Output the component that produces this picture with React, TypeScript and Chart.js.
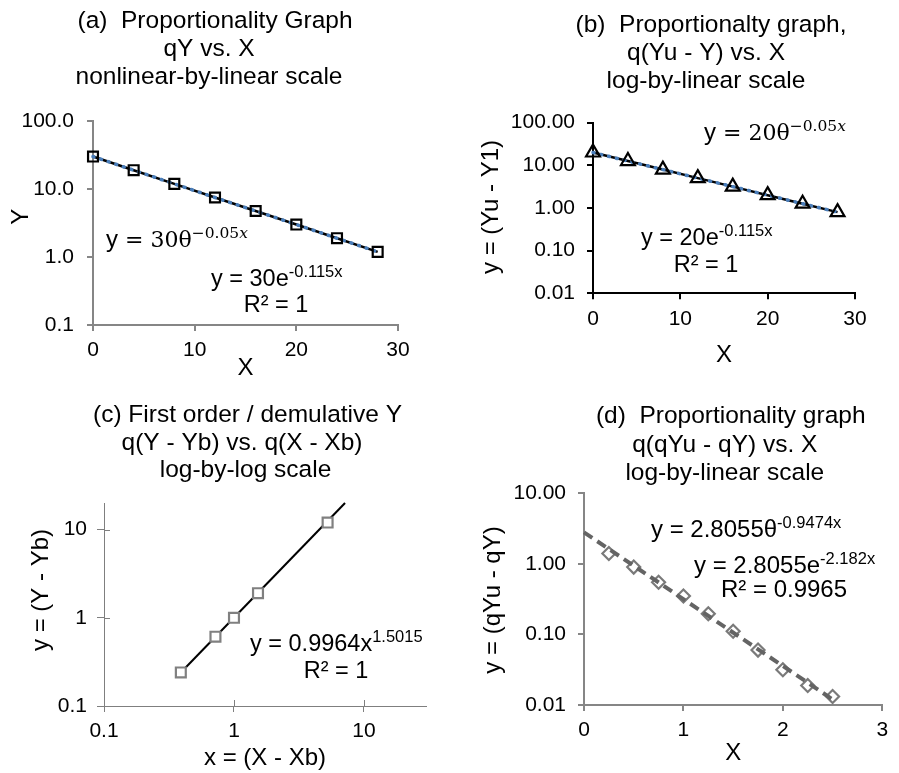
import React, { useEffect, useRef } from "react";
import { Chart, registerables } from "chart.js";
Chart.register(...registerables);

const SANS = "'Liberation Sans', Arial, Helvetica, sans-serif";
const SERIF = "'DejaVu Serif', 'Liberation Serif', serif";

// ---------- Panel (a) data ----------
const aX = [0, 4, 8, 12, 16, 20, 24, 28];
const aY = [30, 18.9, 11.9, 7.5, 4.75, 3.0, 1.89, 1.19];
const aYTicks = [0.1, 1, 10, 100];
const aXTicks = [0, 10, 20, 30];
const aTitle = ["(a)  Proportionality Graph", "qY vs. X", "nonlinear-by-linear scale"];

// ---------- Panel (b) data ----------
const bX = [0, 4, 8, 12, 16, 20, 24, 28];
const bY = [20, 12.6, 7.96, 5.02, 3.17, 2.0, 1.26, 0.8];
const bYTicks = [0.01, 0.1, 1, 10, 100];
const bXTicks = [0, 10, 20, 30];
const bTitle = ["(b)  Proportionalty graph,", "q(Yu - Y) vs. X", "log-by-linear scale"];

// ---------- Panel (c) data ----------
const cX = [0.39, 0.72, 1.0, 1.53, 5.25];
const cY = [0.24, 0.61, 1.0, 1.9, 12.0];
const cTrendX = [0.39, 7.15];
const cTrendY = [0.24, 20];
const cXTicks = [0.1, 1, 10];
const cYTicks = [0.1, 1, 10];
const cTitle = ["(c) First order / demulative Y", "q(Y - Yb) vs. q(X - Xb)", "log-by-log scale"];

// ---------- Panel (d) data ----------
const dX = [0.25, 0.5, 0.75, 1.0, 1.25, 1.5, 1.75, 2.0, 2.25, 2.5];
const dY = [1.4, 0.9, 0.55, 0.35, 0.196, 0.111, 0.06, 0.0316, 0.0189, 0.0132];
const dTrendX = [0, 2.5];
const dTrendY = [2.8, 0.012];
const dYTicks = [0.01, 0.1, 1, 10];
const dXTicks = [0, 1, 2, 3];
const dTitle = ["(d)  Proportionality graph", "q(qYu - qY) vs. X", "log-by-linear scale"];

type Run = { t: string; f: string; dy?: number };
type TextItem = {
  runs: Run[];
  x: number;
  y: number;
  align?: "left" | "center";
  rotate?: boolean;
  color?: string;
};

function drawItem(ctx: CanvasRenderingContext2D, it: TextItem) {
  ctx.save();
  ctx.fillStyle = it.color || "#000";
  ctx.textAlign = "left";
  ctx.textBaseline = it.rotate ? "middle" : "alphabetic";
  let total = 0;
  const widths = it.runs.map((r) => {
    ctx.font = r.f;
    const w = ctx.measureText(r.t).width;
    total += w;
    return w;
  });
  ctx.translate(it.x, it.y);
  if (it.rotate) ctx.rotate(-Math.PI / 2);
  let x = it.align === "center" ? -total / 2 : 0;
  it.runs.forEach((r, i) => {
    ctx.font = r.f;
    ctx.fillText(r.t, x, -(r.dy || 0));
    x += widths[i];
  });
  ctx.restore();
}

const f = (size: number, fam = SANS, style = "") => `${style} ${size}px ${fam}`.trim();

function titleItems(lines: string[], centers: number[], baselines: number[]): TextItem[] {
  return lines.map((t, i) => ({
    runs: [{ t, f: f(24.5) }],
    x: centers[i],
    y: baselines[i],
    align: "center" as const,
  }));
}

const pts = (xs: number[], ys: number[]) => xs.map((x, i) => ({ x, y: ys[i] }));

type PanelSpec = {
  w: number;
  h: number;
  left: number;
  top: number;
  chartLeft: number;
  chartRight: number;
  chartTop: number;
  chartBottom: number;
  xTitleCenter: number;
  xTitle: string;
  xType: "linear" | "logarithmic";
  xMin: number;
  xMax: number;
  xTicks: number[];
  xFmt: (v: number) => string;
  yMin: number;
  yMax: number;
  yTicks: number[];
  yFmt: (v: number) => string;
  axisColor: string;
  axisWidth: number;
  xLabelPad: number;
  yLabelPad: number;
  tickLen: number;
  crossTicks?: boolean;
  datasets: any[];
  texts: TextItem[];
};

function Panel({ spec }: { spec: PanelSpec }) {
  const ref = useRef<HTMLCanvasElement | null>(null);
  useEffect(() => {
    if (!ref.current) return;
    const s = spec;
    const wY = s.chartLeft;
    const scaleBottom = s.xTitleCenter + 12;
    const hX = scaleBottom - s.chartBottom;
    const pB = s.h - scaleBottom;
    const pR = s.w - s.chartRight;
    const pT = s.chartTop;
    const tickFont = { family: SANS, size: 21 };

    const textPlugin = {
      id: "panelText",
      afterDraw(chart: any) {
        const ctx = chart.ctx as CanvasRenderingContext2D;
        if (s.crossTicks) {
          const xs = chart.scales.x;
          const ys = chart.scales.y;
          const ca = chart.chartArea;
          ctx.save();
          ctx.strokeStyle = s.axisColor;
          ctx.lineWidth = s.axisWidth;
          ctx.beginPath();
          xs.ticks.forEach((t: any) => {
            const px = Math.round(xs.getPixelForValue(t.value)) + 0.5;
            ctx.moveTo(px, ca.bottom);
            ctx.lineTo(px, ca.bottom - 6);
          });
          ys.ticks.forEach((t: any) => {
            const py = Math.round(ys.getPixelForValue(t.value)) + 0.5;
            ctx.moveTo(ca.left, py);
            ctx.lineTo(ca.left + 6, py);
          });
          ctx.stroke();
          ctx.restore();
        }
        s.texts.forEach((it) => drawItem(ctx, it));
      },
    };

    const chart = new Chart(ref.current, {
      type: "scatter",
      data: { datasets: s.datasets },
      options: {
        animation: false,
        responsive: false,
        maintainAspectRatio: false,
        events: [],
        layout: { padding: { left: 0, right: pR, top: pT, bottom: pB } },
        elements: { line: { tension: 0 } },
        plugins: {
          legend: { display: false },
          tooltip: { enabled: false },
          title: { display: false },
        },
        scales: {
          x: {
            type: s.xType,
            min: s.xMin,
            max: s.xMax,
            afterBuildTicks: (sc: any) => {
              sc.ticks = s.xTicks.map((v) => ({ value: v }));
            },
            afterFit: (sc: any) => {
              sc.height = hX;
            },
            grid: {
              display: true,
              drawOnChartArea: false,
              drawTicks: true,
              tickLength: s.tickLen,
              tickColor: s.axisColor,
              tickWidth: s.axisWidth,
              color: s.axisColor,
              lineWidth: s.axisWidth,
            },
            border: { display: true, color: s.axisColor, width: s.axisWidth },
            ticks: {
              font: tickFont,
              color: "#000",
              padding: s.xLabelPad,
              autoSkip: false,
              maxRotation: 0,
              minRotation: 0,
              callback: (v: any) => s.xFmt(Number(v)),
            },
            title: {
              display: true,
              text: s.xTitle,
              color: "#000",
              font: { family: SANS, size: 24, lineHeight: 1 },
              padding: 0,
            },
          },
          y: {
            type: "logarithmic",
            min: s.yMin,
            max: s.yMax,
            afterBuildTicks: (sc: any) => {
              sc.ticks = s.yTicks.map((v) => ({ value: v }));
            },
            afterFit: (sc: any) => {
              sc.width = wY;
            },
            grid: {
              display: true,
              drawOnChartArea: false,
              drawTicks: true,
              tickLength: s.tickLen + (s.crossTicks ? 1 : 0),
              tickColor: s.axisColor,
              tickWidth: s.axisWidth,
              color: s.axisColor,
              lineWidth: s.axisWidth,
            },
            border: { display: true, color: s.axisColor, width: s.axisWidth },
            ticks: {
              font: tickFont,
              color: "#000",
              padding: s.yLabelPad,
              autoSkip: false,
              callback: (v: any) => s.yFmt(Number(v)),
            },
            title: { display: false },
          },
        },
      } as any,
      plugins: [textPlugin],
    });
    return () => chart.destroy();
  }, [spec]);
  return (
    <canvas
      ref={ref}
      width={spec.w}
      height={spec.h}
      style={{ position: "absolute", left: spec.left, top: spec.top, width: spec.w, height: spec.h, display: "block" }}
    />
  );
}

const BLUE = "#4a7ebb";

const specA: PanelSpec = {
  w: 449, h: 380, left: 0, top: 0,
  chartLeft: 93, chartRight: 398, chartTop: 121, chartBottom: 325,
  xTitleCenter: 368, xTitle: "X",
  xType: "linear", xMin: 0, xMax: 30, xTicks: aXTicks, xFmt: (v) => String(v),
  yMin: 0.1, yMax: 100, yTicks: aYTicks, yFmt: (v) => v.toFixed(1),
  axisColor: "#868686", axisWidth: 2, xLabelPad: 7, yLabelPad: 13, tickLen: 6,
  datasets: [
    { data: pts(aX, aY), showLine: true, borderColor: "#000", borderWidth: 2.5, pointRadius: 0, order: 3, clip: false },
    { data: pts(aX, aY), showLine: true, borderColor: BLUE, borderWidth: 3.5, borderDash: [1, 7], borderCapStyle: "round", pointRadius: 0, order: 2, clip: false },
    { data: pts(aX, aY), showLine: false, pointStyle: "rect", pointRadius: 7, pointBorderWidth: 2.2, pointBorderColor: "#000", pointBackgroundColor: "rgba(255,255,255,0)", order: 1, clip: false },
  ],
  texts: [
    ...titleItems(aTitle, [215, 209, 209], [27.5, 56, 83.5]),
    { runs: [{ t: "Y", f: f(24) }], x: 21.7, y: 216.7, align: "center", rotate: true },
    {
      runs: [
        { t: "y", f: f(24) },
        { t: " = 30θ", f: f(22, SERIF) },
        { t: "−0.05", f: f(15.5, SERIF), dy: 9 },
        { t: "x", f: f(15.5, SERIF, "italic"), dy: 9 },
      ],
      x: 106, y: 247,
    },
    { runs: [{ t: "y = 30e", f: f(23.5) }, { t: "-0.115x", f: f(16.5), dy: 9 }], x: 211, y: 286 },
    { runs: [{ t: "R² = 1", f: f(23.5) }], x: 276, y: 311.5, align: "center" },
  ],
};

const specB: PanelSpec = {
  w: 450, h: 380, left: 449, top: 0,
  chartLeft: 144, chartRight: 406, chartTop: 122.7, chartBottom: 293.3,
  xTitleCenter: 355, xTitle: "X",
  xType: "linear", xMin: 0, xMax: 30, xTicks: bXTicks, xFmt: (v) => String(v),
  yMin: 0.01, yMax: 100, yTicks: bYTicks, yFmt: (v) => v.toFixed(2),
  axisColor: "#000", axisWidth: 2, xLabelPad: 7, yLabelPad: 12, tickLen: 6,
  datasets: [
    { data: pts(bX, bY), showLine: true, borderColor: "#000", borderWidth: 2.5, pointRadius: 0, order: 3, clip: false },
    { data: pts(bX, bY), showLine: true, borderColor: BLUE, borderWidth: 3.5, borderDash: [1, 7], borderCapStyle: "round", pointRadius: 0, order: 2, clip: false },
    { data: pts(bX, bY), showLine: false, pointStyle: "triangle", pointRadius: 8, pointBorderWidth: 2.2, pointBorderColor: "#000", pointBackgroundColor: "rgba(255,255,255,0)", order: 1, clip: false },
  ],
  texts: [
    ...titleItems(bTitle, [262, 257, 257], [31.5, 60, 87.5]),
    { runs: [{ t: "y = (Yu - Y1)", f: f(24) }], x: 42.5, y: 207, align: "center", rotate: true },
    {
      runs: [
        { t: "y", f: f(24) },
        { t: " = 20θ", f: f(22, SERIF) },
        { t: "−0.05", f: f(15.5, SERIF), dy: 9 },
        { t: "x", f: f(15.5, SERIF, "italic"), dy: 9 },
      ],
      x: 255, y: 140,
    },
    { runs: [{ t: "y = 20e", f: f(23.5) }, { t: "-0.115x", f: f(16.5), dy: 9 }], x: 192, y: 245 },
    { runs: [{ t: "R² = 1", f: f(23.5) }], x: 257, y: 271.7, align: "center" },
  ],
};

const specC: PanelSpec = {
  w: 449, h: 393, left: 0, top: 380,
  chartLeft: 104, chartRight: 426, chartTop: 123, chartBottom: 326,
  xTitleCenter: 378, xTitle: "x = (X - Xb)",
  xType: "logarithmic", xMin: 0.1, xMax: 30, xTicks: cXTicks, xFmt: (v) => String(v),
  yMin: 0.1, yMax: 20, yTicks: cYTicks, yFmt: (v) => String(v),
  axisColor: "#7f7f7f", axisWidth: 1, xLabelPad: 7, yLabelPad: 10, tickLen: 6, crossTicks: true,
  datasets: [
    { data: pts(cTrendX, cTrendY), showLine: true, borderColor: "#000", borderWidth: 2, pointRadius: 0, order: 2, clip: false },
    { data: pts(cX, cY), showLine: false, pointStyle: "rect", pointRadius: 7, pointBorderWidth: 2.2, pointBorderColor: "#808080", pointBackgroundColor: "#fff", order: 1, clip: false },
  ],
  texts: [
    ...titleItems(cTitle, [247.5, 242, 245.5], [41.5, 70, 97]),
    { runs: [{ t: "y = (Y - Yb)", f: f(24) }], x: 41, y: 210, align: "center", rotate: true },
    { runs: [{ t: "y = 0.9964x", f: f(23.5) }, { t: "1.5015", f: f(16.5), dy: 9 }], x: 250, y: 270.7 },
    { runs: [{ t: "R² = 1", f: f(23.5) }], x: 336, y: 297.7, align: "center" },
  ],
};

const specD: PanelSpec = {
  w: 450, h: 393, left: 449, top: 380,
  chartLeft: 135, chartRight: 433.3, chartTop: 113.3, chartBottom: 325,
  xTitleCenter: 373, xTitle: "X",
  xType: "linear", xMin: 0, xMax: 3, xTicks: dXTicks, xFmt: (v) => String(v),
  yMin: 0.01, yMax: 10, yTicks: dYTicks, yFmt: (v) => v.toFixed(2),
  axisColor: "#868686", axisWidth: 2, xLabelPad: 6.5, yLabelPad: 12, tickLen: 6,
  datasets: [
    { data: pts(dTrendX, dTrendY), showLine: true, borderColor: "#646464", borderWidth: 4, borderDash: [10, 6], pointRadius: 0, order: 1, clip: false },
    { data: pts(dX, dY), showLine: false, pointStyle: "rectRot", pointRadius: 6.5, pointBorderWidth: 2.2, pointBorderColor: "#7a7a7a", pointBackgroundColor: "#fff", order: 2, clip: false },
  ],
  texts: [
    ...titleItems(dTitle, [281.7, 275.8, 275.8], [43, 71.5, 100]),
    { runs: [{ t: "y = (qYu - qY)", f: f(24) }], x: 44, y: 220, align: "center", rotate: true },
    { runs: [{ t: "y = 2.8055θ", f: f(24) }, { t: "-0.9474x", f: f(16.5), dy: 9 }], x: 202, y: 156.7 },
    { runs: [{ t: "y = 2.8055e", f: f(24) }, { t: "-2.182x", f: f(16.5), dy: 9 }], x: 245, y: 192.7 },
    { runs: [{ t: "R² = 0.9965", f: f(24) }], x: 335, y: 216.7, align: "center" },
  ],
};

export default function App() {
  return (
    <div style={{ position: "absolute", left: 0, top: 0, width: 899, height: 773, background: "#fff", overflow: "hidden" }}>
      <Panel spec={specA} />
      <Panel spec={specB} />
      <Panel spec={specC} />
      <Panel spec={specD} />
    </div>
  );
}
